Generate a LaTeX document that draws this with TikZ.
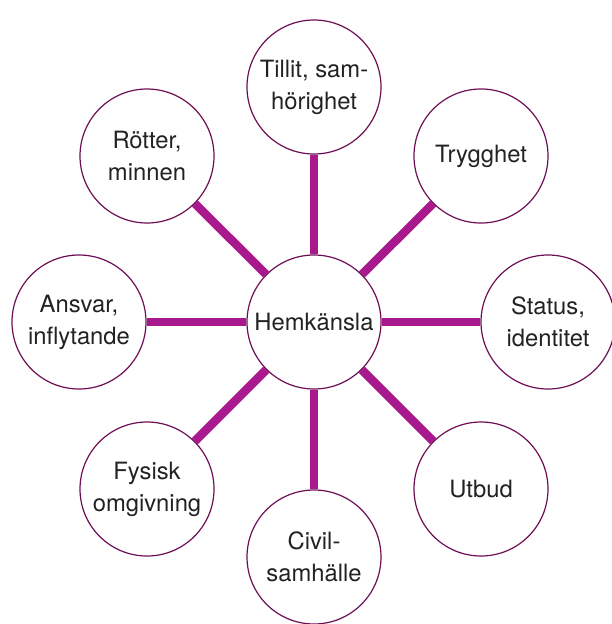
\documentclass[tikz,border=0pt]{standalone}
\usepackage{fontspec}
\setmainfont{TeX Gyre Heros}
\definecolor{spoke}{HTML}{A8198D}
\definecolor{rim}{HTML}{6E0F55}
\definecolor{txt}{HTML}{222222}
\begin{document}
\begin{tikzpicture}[x=1pt,y=-1pt,
  bubble/.style={circle,draw=rim,line width=1.2pt,fill=white,minimum size=134pt,inner sep=0pt,
    align=center,text=txt,font=\fontsize{23.8}{32}\selectfont},
  spokeline/.style={draw=spoke,line width=8.5pt}]
\useasboundingbox (0,0) rectangle (612,624);
\node[bubble] (c) at (314,322) {Hemkänsla};
\node[bubble] (n) at (314,87) {Tillit, sam-\\hörighet};
\node[bubble] (ne) at (481,156) {Trygghet};
\node[bubble] (e) at (548,322) {Status,\\identitet};
\node[bubble] (se) at (481,489) {Utbud};
\node[bubble] (s) at (314,557) {Civil-\\samhälle};
\node[bubble] (sw) at (147,489) {Fysisk\\omgivning};
\node[bubble] (w) at (79,322) {Ansvar,\\inflytande};
\node[bubble] (nw) at (147,156) {Rötter,\\minnen};
\foreach \o in {n,ne,e,se,s,sw,w,nw}{
  \path[spokeline] (c) -- (\o);
}
\end{tikzpicture}
\end{document}
